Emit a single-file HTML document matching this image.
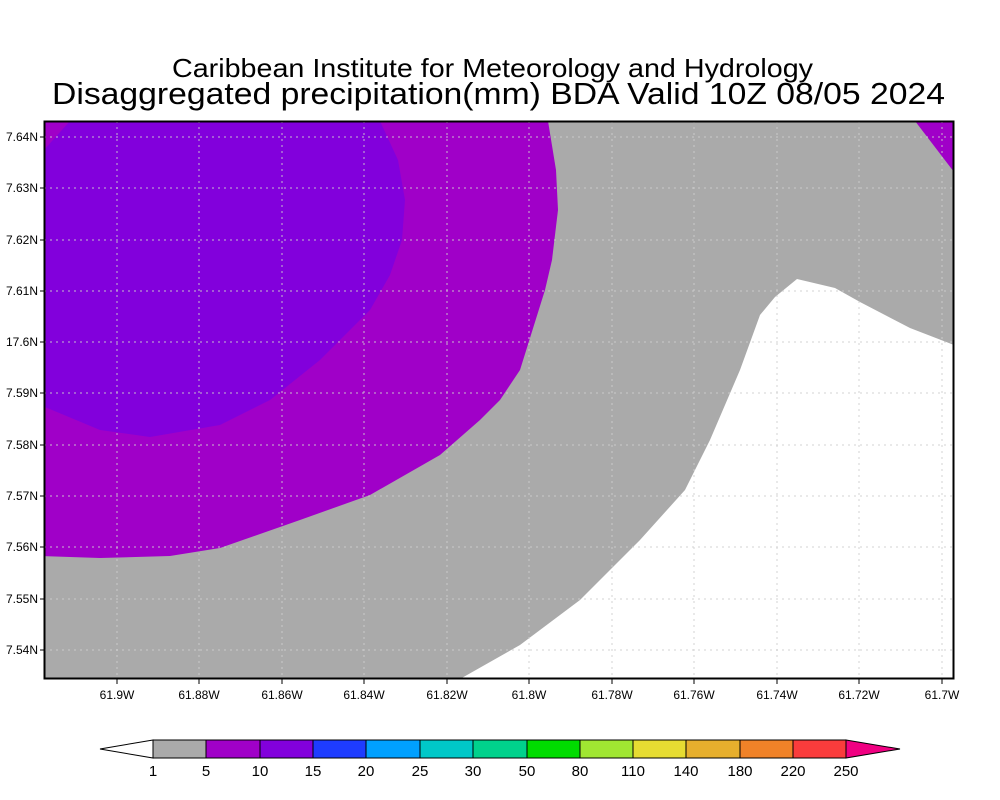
<!DOCTYPE html>
<html><head><meta charset="utf-8"><style>
html,body{margin:0;padding:0;background:#fff;}
svg{display:block;}
text{font-family:"Liberation Sans",sans-serif;fill:#000;}
</style></head><body>
<svg width="1000" height="800" viewBox="0 0 1000 800" xmlns="http://www.w3.org/2000/svg">
<rect width="1000" height="800" fill="#fff"/>
<text x="172" y="77" font-size="26" textLength="641" lengthAdjust="spacingAndGlyphs">Caribbean Institute for Meteorology and Hydrology</text>
<text x="52" y="104" font-size="31" textLength="893" lengthAdjust="spacingAndGlyphs">Disaggregated precipitation(mm) BDA Valid 10Z 08/05 2024</text>
<defs><clipPath id="c"><rect x="44" y="121" width="910" height="558"/></clipPath></defs>
<g clip-path="url(#c)">
<rect x="44" y="121" width="910" height="558" fill="#aaaaaa"/>
<path d="M460,679 L520,645 L580,600 L640,540 L685,490 L710,440 L740,370 L760,315 L775,297 L797,279 L835,288 L860,302 L910,328 L954,345 L954,679 Z" fill="#fff"/>
<path d="M915,121 L954,121 L954,172 Z" fill="#a000c8"/>
<path d="M40,121 L548,121 L556,170 L558,210 L552,260 L545,290 L520,370 L500,400 L480,420 L440,455 L370,495 L300,520 L220,548 L170,556 L100,558 L40,556 Z" fill="#a000c8"/>
<path d="M40,121 L380,121 L398,160 L405,200 L402,240 L390,275 L370,310 L320,360 L270,400 L220,425 L150,437 L100,430 L40,405 Z" fill="#8200dc"/>
<path d="M44,121 L70,121 L44,150 Z" fill="#a000c8"/>
</g>
<g stroke="#cfcfcf" stroke-width="1" stroke-dasharray="2,4" opacity="0.9">
<line x1="117" y1="121" x2="117" y2="679"/><line x1="199" y1="121" x2="199" y2="679"/><line x1="282" y1="121" x2="282" y2="679"/><line x1="364" y1="121" x2="364" y2="679"/><line x1="447" y1="121" x2="447" y2="679"/><line x1="529" y1="121" x2="529" y2="679"/><line x1="612" y1="121" x2="612" y2="679"/><line x1="694" y1="121" x2="694" y2="679"/><line x1="777" y1="121" x2="777" y2="679"/><line x1="859" y1="121" x2="859" y2="679"/><line x1="942" y1="121" x2="942" y2="679"/>
<line x1="44" y1="137" x2="954" y2="137"/><line x1="44" y1="188" x2="954" y2="188"/><line x1="44" y1="240" x2="954" y2="240"/><line x1="44" y1="291" x2="954" y2="291"/><line x1="44" y1="342" x2="954" y2="342"/><line x1="44" y1="393" x2="954" y2="393"/><line x1="44" y1="445" x2="954" y2="445"/><line x1="44" y1="496" x2="954" y2="496"/><line x1="44" y1="547" x2="954" y2="547"/><line x1="44" y1="599" x2="954" y2="599"/><line x1="44" y1="650" x2="954" y2="650"/>
</g>
<rect x="44.5" y="121.5" width="909" height="557" fill="none" stroke="#000" stroke-width="2"/>
<g stroke="#000" stroke-width="1">
<path d="M117,679v5M199,679v5M282,679v5M364,679v5M447,679v5M529,679v5M612,679v5M694,679v5M777,679v5M859,679v5M942,679v5"/>
<path d="M44,137h-4M44,188h-4M44,240h-4M44,291h-4M44,342h-4M44,393h-4M44,445h-4M44,496h-4M44,547h-4M44,599h-4M44,650h-4"/>
</g>
<g font-size="12" text-anchor="end">
<text x="38" y="141">7.64N</text><text x="38" y="192">7.63N</text><text x="38" y="244">7.62N</text><text x="38" y="295">7.61N</text><text x="38" y="346">17.6N</text><text x="38" y="397">7.59N</text><text x="38" y="449">7.58N</text><text x="38" y="500">7.57N</text><text x="38" y="551">7.56N</text><text x="38" y="603">7.55N</text><text x="38" y="654">7.54N</text>
</g>
<g font-size="12" text-anchor="middle">
<text x="117" y="699">61.9W</text><text x="199" y="699">61.88W</text><text x="282" y="699">61.86W</text><text x="364" y="699">61.84W</text><text x="447" y="699">61.82W</text><text x="529" y="699">61.8W</text><text x="612" y="699">61.78W</text><text x="694" y="699">61.76W</text><text x="777" y="699">61.74W</text><text x="859" y="699">61.72W</text><text x="942" y="699">61.7W</text>
</g>
<g stroke="#000" stroke-width="1">
<path d="M153,740 L100,749 L153,758 Z" fill="#fff"/>
<rect x="153" y="740" width="53" height="18" fill="#aaaaaa"/>
<rect x="206" y="740" width="54" height="18" fill="#a000c8"/>
<rect x="260" y="740" width="53" height="18" fill="#8200dc"/>
<rect x="313" y="740" width="53" height="18" fill="#1e3cff"/>
<rect x="366" y="740" width="54" height="18" fill="#00a0ff"/>
<rect x="420" y="740" width="53" height="18" fill="#00c8c8"/>
<rect x="473" y="740" width="54" height="18" fill="#00d28c"/>
<rect x="527" y="740" width="53" height="18" fill="#00dc00"/>
<rect x="580" y="740" width="53" height="18" fill="#a0e632"/>
<rect x="633" y="740" width="53" height="18" fill="#e6dc32"/>
<rect x="686" y="740" width="54" height="18" fill="#e6af2d"/>
<rect x="740" y="740" width="53" height="18" fill="#f08228"/>
<rect x="793" y="740" width="53" height="18" fill="#fa3c3c"/>
<path d="M846,740 L900,749 L846,758 Z" fill="#f00082"/>
</g>
<g font-size="15" text-anchor="middle">
<text x="153" y="776">1</text><text x="206" y="776">5</text><text x="260" y="776">10</text><text x="313" y="776">15</text><text x="366" y="776">20</text><text x="420" y="776">25</text><text x="473" y="776">30</text><text x="527" y="776">50</text><text x="580" y="776">80</text><text x="633" y="776">110</text><text x="686" y="776">140</text><text x="740" y="776">180</text><text x="793" y="776">220</text><text x="846" y="776">250</text>
</g>
</svg>
</body></html>
